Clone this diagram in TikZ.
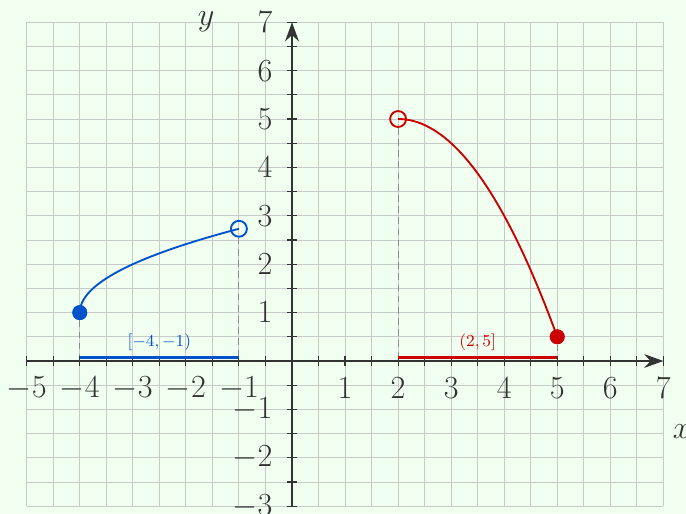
\documentclass[tikz,border=0pt]{standalone}
\usetikzlibrary{arrows.meta, positioning, calc}
\usepackage{xcolor}
\definecolor{cBg}{RGB}{240,255,240}
\definecolor{cGrid}{RGB}{200,202,200}
\definecolor{cAxis}{RGB}{51,51,51}
\definecolor{cDrop}{RGB}{140,140,140}
\definecolor{cBlue}{RGB}{0,82,204}
\definecolor{cRed}{RGB}{204,0,0}

\tikzset{
  ticklbl/.style={font=\fontsize{16.5}{18}\selectfont, text=cAxis, inner sep=0pt},
  intlbl/.style={font=\fontsize{9}{11}\selectfont, inner sep=0pt},
  solidpt/.style={circle, fill=#1, inner sep=0pt, minimum size=0.28cm},
  openpt/.style={circle, draw=#1, line width=1pt, inner sep=0pt, minimum size=0.3cm},
  dropline/.style={cDrop, dash pattern=on 3.6pt off 2.4pt, line width=0.6pt},
  domainbar/.style={line width=1.7pt},
  graphline/.style={line width=1pt},
}

\begin{document}
\begin{tikzpicture}[x=1cm, y=0.9123cm]
        \useasboundingbox[fill=cBg] (-5.504,-3.161) rectangle (7.427,7.459);
        % grid
        \draw[cGrid, line width=0.5pt] (-5,-3) grid[step=0.5] (7,7);

        % points on the graphs and their feet on the x axis
        \node[solidpt=cBlue] (pA) at (-4,1) {};
        \node[openpt=cBlue] (pB) at (-1,{1+sqrt(3)}) {};
        \node[openpt=cRed] (pC) at (2,5) {};
        \node[solidpt=cRed] (pD) at (5,0.5) {};
        \coordinate (fA) at (-4,0);
        \coordinate (fB) at (-1,0);
        \coordinate (fC) at (2,0);
        \coordinate (fD) at (5,0);
        \draw[dropline] (pA) -- (fA);
        \draw[dropline] (pB) -- (fB);
        \draw[dropline] (pC) -- (fC);
        \draw[dropline] (pD) -- (fD);

        % axes
        \coordinate (xs) at (-5,0);
        \coordinate (xe) at (7,0);
        \coordinate (ys) at (0,-3);
        \coordinate (ye) at (0,7);
        \draw[cAxis, line width=1pt, -{Stealth[length=3.6mm, width=2.6mm]}] (xs) -- (xe);
        \draw[cAxis, line width=1pt, -{Stealth[length=3.6mm, width=2.6mm]}] (ys) -- (ye);
        \foreach \x in {-5,-4.5,...,7} {
          \draw[cAxis, line width=0.6pt] (\x,0) ++(0,-0.1) -- ++(0,0.2);
        }
        \foreach \y in {-3,-2.5,...,7} {
          \draw[cAxis, line width=0.6pt] (0,\y) ++(-0.09,0) -- ++(0.18,0);
        }
        \foreach \i [count=\n] in {-5,-4,-3,-2,-1,1,2,3,4,5,6,7} {
          \node[ticklbl] (xl\n) at (\i,-0.56) {$\i$};
        }
        \foreach \i [count=\n] in {-3,-2,-1,1,2,3,4,5,6,7} {
          \node[ticklbl, anchor=east] (yl\n) at (-0.36,\i) {$\i$};
        }
        \node[ticklbl] (xname) at (7.35,-1.45) {$x$};
        \node[ticklbl] (yname) at (-1.62,7.02) {$y$};

        % domains
        \coordinate (dA) at (-4,0.07);
        \coordinate (dB) at (-1,0.07);
        \coordinate (dC) at (2,0.07);
        \coordinate (dD) at (5,0.07);
        \draw[cBlue, domainbar] (dA) -- (dB);
        \draw[cRed, domainbar] (dC) -- (dD);
        \node[intlbl, text=cBlue] (iA) at (-2.5,0.38) {$[-4,-1)$};
        \node[intlbl, text=cRed] (iC) at (3.5,0.38) {$(2,5]$};

        % graphs
        \draw[cBlue, graphline] plot[domain=-4:-1, samples=120, smooth] (\x,{1+sqrt(\x+4)});
        \draw[cRed, graphline] plot[domain=2:5, samples=80, smooth] (\x,{5-0.5*(\x-2)^2});
        \node[solidpt=cBlue] (pAtop) at (pA) {};
        \node[solidpt=cRed] (pDtop) at (pD) {};
      \end{tikzpicture}
\end{document}
